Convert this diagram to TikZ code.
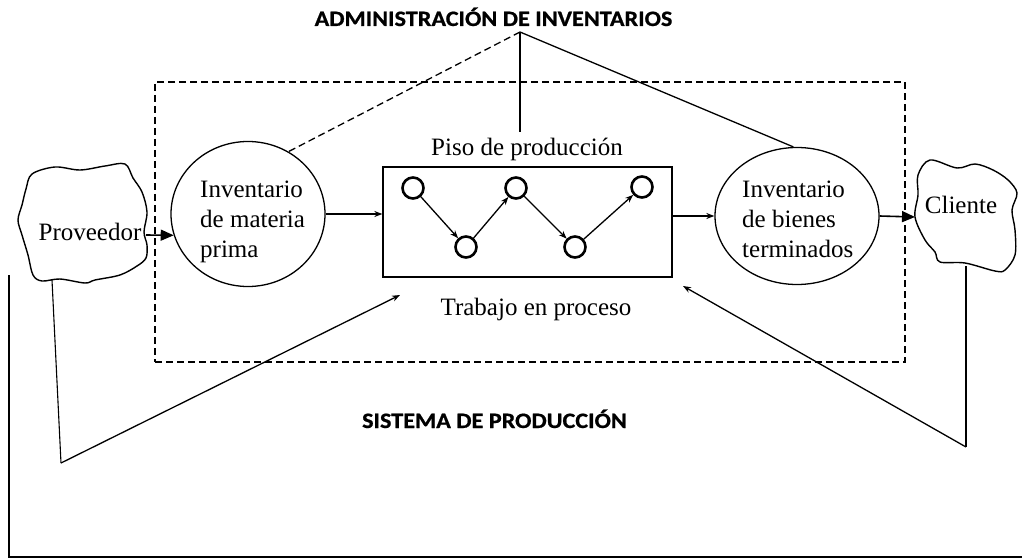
\documentclass[tikz,border=0pt]{standalone}
\usepackage{fontspec}
\setmainfont{Liberation Serif}
\newfontfamily\titlefont[FakeStretch=1.1,FakeBold=0.8]{Carlito}
\usetikzlibrary{arrows.meta,shapes.geometric}
\begin{document}
\begin{tikzpicture}[x=1pt,y=-1pt,
  ln/.style={line width=1.3pt},
  dsh/.style={line width=1.3pt, dash pattern=on 7pt off 4pt},
  txt/.style={font=\fontsize{25}{30}\selectfont, inner sep=0pt},
  ttl/.style={font=\titlefont\bfseries\fontsize{22}{26}\selectfont, inner sep=0pt},
  inv/.style={draw, ellipse, line width=1.3pt, inner sep=0pt},
  st/.style={draw, circle, line width=2.6pt, minimum size=21pt, inner sep=0pt},
  sarr/.style={ln, -{Stealth[length=8pt,width=6pt]}},
  barr/.style={line width=1.6pt, -{Triangle[length=13pt,width=11pt]}},
  cloudline/.style={line width=1.4pt}
]
\useasboundingbox (0,0) rectangle (1022,559);

% system boundary
\node[draw, dsh, minimum width=750pt, minimum height=280pt, inner sep=0pt] (sys) at (530,222) {};

% titles
\node[ttl, anchor=base] (admin) at (493.5,26) {ADMINISTRACIÓN DE INVENTARIOS};
\node[ttl, anchor=base] (sist) at (494.5,428) {SISTEMA DE PRODUCCIÓN};

% inventories
\node[inv, minimum width=154pt, minimum height=145pt] (emp) at (248,214) {};
\node[txt, align=left, anchor=base west] (empT) at (200,257) {Inventario\\de materia\\prima};
\node[inv, minimum width=164pt, minimum height=137pt] (ebt) at (797,216) {};
\node[txt, align=left, anchor=base west] (ebtT) at (742,257) {Inventario\\de bienes\\terminados};

% production floor
\node[draw, ln, minimum width=289pt, minimum height=110pt, inner sep=0pt] (wip) at (527.5,222) {};
\node[txt, anchor=base] (piso) at (527,155) {Piso de producción};
\node[txt, anchor=base] (trab) at (536,315) {Trabajo en proceso};
\node[st] (c1) at (413,188) {};
\node[st] (c2) at (466,247) {};
\node[st] (c3) at (516,188) {};
\node[st] (c4) at (575,247) {};
\node[st] (c5) at (642,187) {};
\draw[sarr] (c1) -- (c2);
\draw[sarr] (c2) -- (c3);
\draw[sarr] (c3) -- (c4);
\draw[sarr] (c4) -- (c5);

% clouds
\draw[cloudline] plot[smooth cycle, tension=0.55] coordinates {
 (32,174) (55,167) (80,170) (105,166) (125,164) (133,178) (142,192) (147,212)
 (144,232) (147,245) (146,258) (137,266) (120,275) (95,280) (85,283) (60,279)
 (42,281) (33,275) (28,255) (22,235) (18,220) (22,205) (26,189)};
\node[txt, anchor=base] (prov) at (90,240) {Proveedor};
\draw[cloudline] plot[smooth cycle, tension=0.55] coordinates {
 (930,160) (957,168) (975,164) (993,170) (1008,180) (1017,193) (1012,210)
 (1015,230) (1015,255) (1005,270) (995,271) (965,263) (940,262) (935,252)
 (925,240) (915,217) (918,195) (918,175)};
\node[txt, anchor=base] (cli) at (961,213) {Cliente};

% named points
\coordinate (provR) at (146,235);
\coordinate (cliL) at (915,217);
\coordinate (apex) at (520,32);
\coordinate (pisoTop) at (520,132);
\coordinate (provB) at (52,280);
\coordinate (lc) at (61,463);
\coordinate (lt) at (400,295);
\coordinate (cliB) at (966,266);
\coordinate (rc) at (966,447);
\coordinate (rt) at (683,286);
\coordinate (fTop) at (9,275);
\coordinate (fCorner) at (9,557);
\coordinate (fEnd) at (1022,557);

% material flow
\draw[barr] (provR) -- (emp.196);
\draw[sarr] (emp.east) -- (emp.east -| wip.west);
\draw[sarr] (ebt.west -| wip.east) -- (ebt.west);
\draw[barr] (ebt.east) -- (cliL);

% inventory management lines
\draw[dsh] (apex) -- (emp.57);
\draw[ln] (apex) -- (pisoTop);
\draw[ln] (apex) -- (ebt.93);

% feedback lines
\draw[line width=1.1pt] (provB) -- (lc);
\draw[sarr] (lc) -- (lt);
\draw[line width=1.1pt] (cliB) -- (rc);
\draw[sarr] (rc) -- (rt);

% frame
\draw[line width=2pt] (fTop) -- (fCorner) -- (fEnd);
\end{tikzpicture}
\end{document}
